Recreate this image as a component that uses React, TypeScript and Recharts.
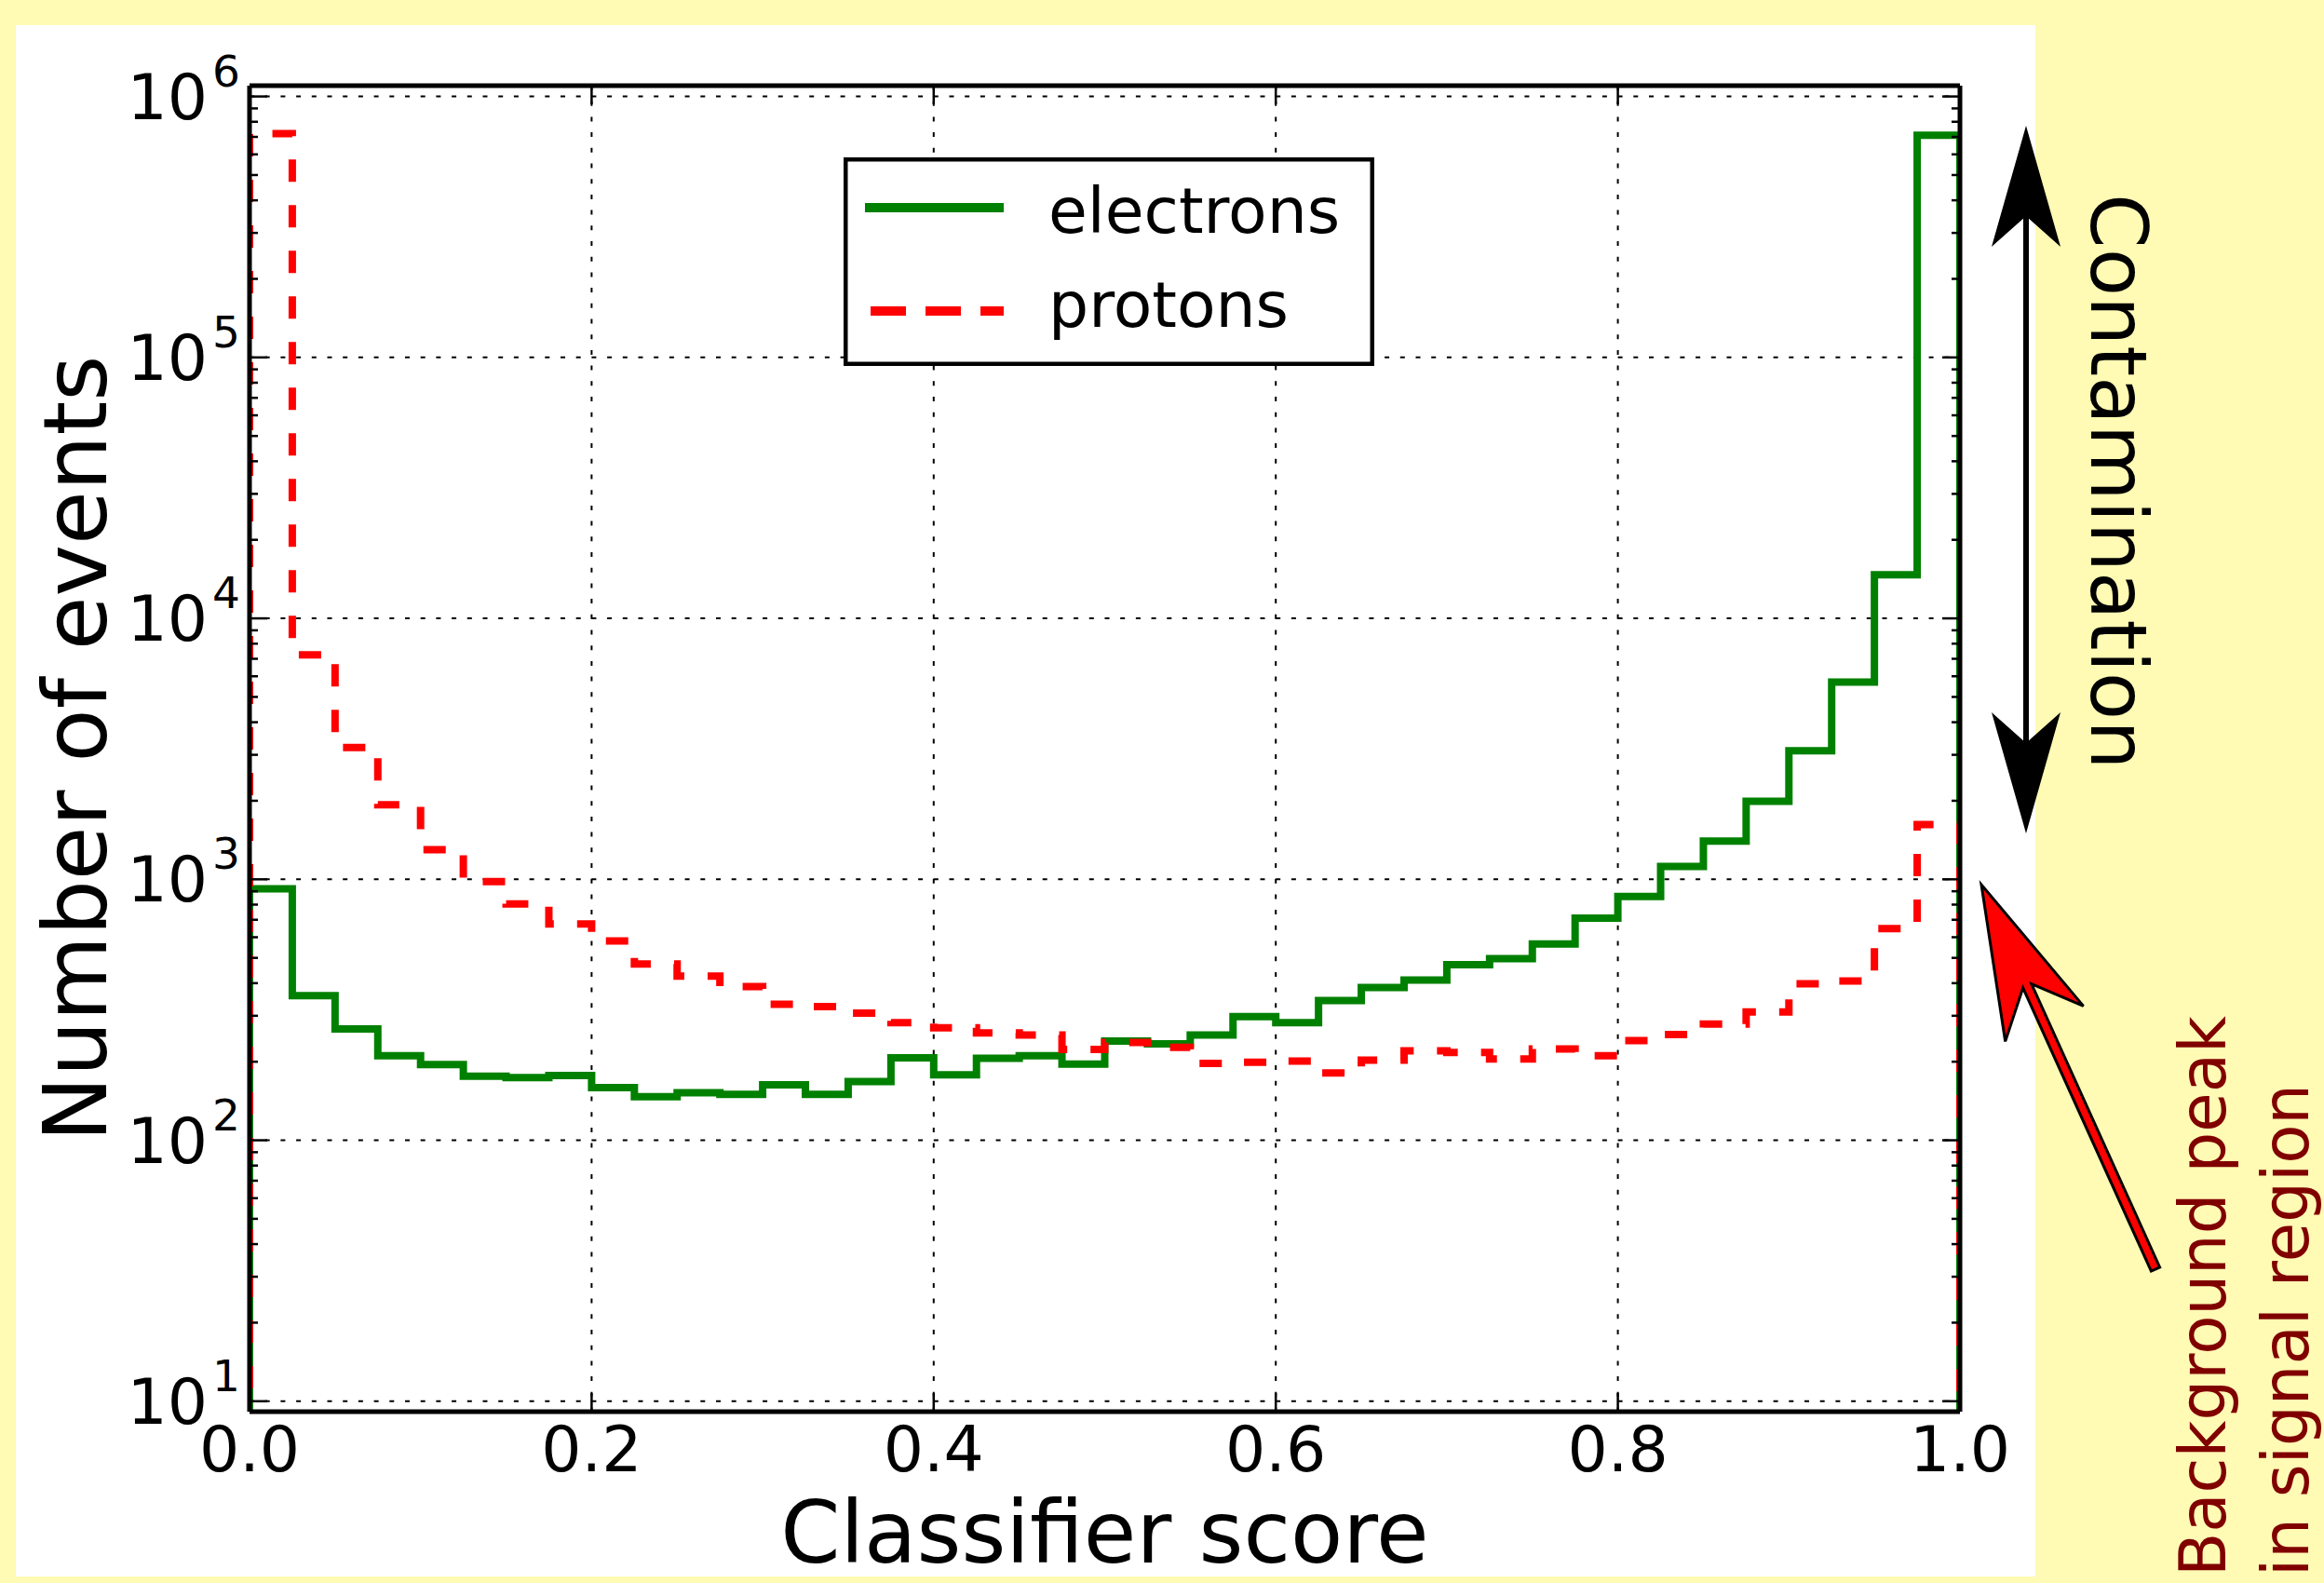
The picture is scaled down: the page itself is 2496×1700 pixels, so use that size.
import React from 'react';
import { LineChart, Line, XAxis, YAxis, CartesianGrid, Legend, Label } from 'recharts';

const FONT = '"DejaVu Sans", "Bitstream Vera Sans", sans-serif';
const BG = '#fffab4';
const GREEN = '#008000';
const RED = '#ff0000';

// Histogram bin left edges (classifier score), last edge = 1.0
const BIN_EDGES = [
  0, 0.025, 0.05, 0.075, 0.1, 0.125, 0.15, 0.175, 0.2, 0.225,
  0.25, 0.275, 0.3, 0.325, 0.35, 0.375, 0.4, 0.425, 0.45, 0.475,
  0.5, 0.525, 0.55, 0.575, 0.6, 0.625, 0.65, 0.675, 0.7, 0.725,
  0.75, 0.775, 0.8, 0.825, 0.85, 0.875, 0.9, 0.925, 0.95, 0.975,
];
const LAST_EDGE = 1.0;
const BASELINE = 1; // histogram outline starts/ends below the axis

const ELECTRONS = [
  920, 358, 267, 211, 195, 176, 174, 177, 159, 147,
  152, 150, 163, 150, 168, 207, 178, 206, 211, 196,
  240, 234, 253, 298, 282, 343, 385, 411, 471, 497,
  565, 710, 859, 1120, 1400, 1990, 3110, 5700, 14700, 710000,
];
const PROTONS = [
  720000, 7250, 3200, 1930, 1300, 981, 805, 674, 581, 474,
  426, 388, 332, 325, 307, 282, 270, 258, 253, 223,
  237, 227, 197, 199, 201, 181, 203, 220, 217, 205,
  224, 211, 241, 254, 279, 310, 398, 408, 647, 1620,
];

const SERIES = [
  { key: 'e', name: 'electrons', color: GREEN, dash: undefined as string | undefined, legendDash: undefined as string | undefined },
  { key: 'p', name: 'protons', color: RED, dash: '24 25', legendDash: '38 21' },
];

const X_TICKS = [0, 0.2, 0.4, 0.6, 0.8, 1.0];
const X_TICK_LABELS = ['0.0', '0.2', '0.4', '0.6', '0.8', '1.0'];
const Y_MAJOR = [10, 100, 1000, 10000, 100000, 1000000];
const Y_TICKS = [
  10, 20, 30, 40, 50, 60, 70, 80, 90,
  100, 200, 300, 400, 500, 600, 700, 800, 900,
  1000, 2000, 3000, 4000, 5000, 6000, 7000, 8000, 9000,
  10000, 20000, 30000, 40000, 50000, 60000, 70000, 80000, 90000,
  100000, 200000, 300000, 400000, 500000, 600000, 700000, 800000, 900000,
  1000000,
];
const Y_MIN = 9.12;
const Y_MAX = 1.1e6;

const X_TITLE = 'Classifier score';
const Y_TITLE = 'Number of events';
const ARROW_TEXT = 'Contamination';
const NOTE_LINES = ['Background peak', 'in signal region'];

function buildData() {
  const rows: any[] = [{ x: BIN_EDGES[0], e: BASELINE, p: BASELINE }];
  BIN_EDGES.forEach((edge, i) => rows.push({ x: edge, e: ELECTRONS[i], p: PROTONS[i] }));
  const n = BIN_EDGES.length - 1;
  rows.push({ x: LAST_EDGE, e: ELECTRONS[n], p: PROTONS[n] });
  rows.push({ x: LAST_EDGE, e: BASELINE, p: BASELINE });
  return rows;
}

const isMajor = (v: number) => Y_MAJOR.includes(v);

const LeftTick = (props: any) => {
  const { x, y, payload } = props;
  const v = payload.value;
  const major = isMajor(v);
  const len = major ? 19 : 9;
  const exp = Math.round(Math.log10(v));
  return (
    <g>
      <line x1={x} y1={y} x2={x + len} y2={y} stroke="#000" strokeWidth={2.5} />
      {major && (
        <text x={x - 10} y={y + 24} textAnchor="end" fontFamily={FONT} fill="#000">
          <tspan fontSize={68}>10</tspan>
          <tspan fontSize={47} dx={5} dy={-35}>{exp}</tspan>
        </text>
      )}
    </g>
  );
};

const RightTick = (props: any) => {
  const { x, y, payload } = props;
  const len = isMajor(payload.value) ? 19 : 9;
  return <line x1={x} y1={y} x2={x - len} y2={y} stroke="#000" strokeWidth={2.5} />;
};

const BottomTick = (props: any) => {
  const { x, y, payload } = props;
  const idx = X_TICKS.indexOf(payload.value);
  const label = idx >= 0 ? X_TICK_LABELS[idx] : String(payload.value);
  return (
    <g>
      <line x1={x} y1={y} x2={x} y2={y - 20} stroke="#000" strokeWidth={2.5} />
      <text x={x} y={y + 64} textAnchor="middle" fontSize={68} fontFamily={FONT} fill="#000">{label}</text>
    </g>
  );
};

const TopTick = (props: any) => {
  const { x, y } = props;
  return <line x1={x} y1={y} x2={x} y2={y + 20} stroke="#000" strokeWidth={2.5} />;
};

const XTitle = (props: any) => {
  const vb = props.viewBox || { x: 251, y: 1489, width: 1837, height: 184 };
  return (
    <text x={vb.x + vb.width / 2} y={vb.y + 162} textAnchor="middle" fontSize={92} fontFamily={FONT} fill="#000">
      {X_TITLE}
    </text>
  );
};

const YTitle = (props: any) => {
  const vb = props.viewBox || { x: 0, y: 65, width: 251, height: 1424 };
  const tx = vb.x + 97;
  const ty = vb.y + vb.height / 2;
  return (
    <text x={tx} y={ty} transform={`rotate(-90 ${tx} ${ty})`} textAnchor="middle" fontSize={94} fontFamily={FONT} fill="#000">
      {Y_TITLE}
    </text>
  );
};

const renderLegend = (props: any) => {
  const payload = props.payload || [];
  const rows = [
    { lineY: 54, textY: 81 },
    { lineY: 165, textY: 182 },
  ];
  return (
    <svg width={570} height={224} style={{ display: 'block' }}>
      <rect x={2.25} y={2.25} width={565.5} height={219.5} fill="#fff" stroke="#000" strokeWidth={4.5} />
      {payload.map((entry: any, i: number) => {
        const s = SERIES.find((q) => q.key === entry.dataKey) || SERIES[i];
        const r = rows[i] || rows[0];
        return (
          <g key={s.key}>
            <line
              x1={23}
              x2={172}
              y1={r.lineY}
              y2={r.lineY}
              stroke={s.color}
              strokeWidth={10}
              strokeDasharray={s.legendDash}
              strokeDashoffset={s.legendDash ? -6 : 0}
            />
            <text x={220} y={r.textY} fontSize={68} fontFamily={FONT} fill="#000">{s.name}</text>
          </g>
        );
      })}
    </svg>
  );
};

type P = [number, number];
function arrowPoints(tip: P, tail: P, headLen: number, headHalf: number, notch: number, shaftHalf: number, doubleHead: boolean) {
  const dx = tail[0] - tip[0];
  const dy = tail[1] - tip[1];
  const L = Math.hypot(dx, dy);
  const bx = dx / L, by = dy / L;
  const px = -by, py = bx;
  const map = (a: number, b: number) => `${(tip[0] + a * bx + b * px).toFixed(1)},${(tip[1] + a * by + b * py).toFixed(1)}`;
  const t = (headHalf - shaftHalf) / headHalf;
  const aj = headLen + (notch - headLen) * t;
  const pts: string[] = [];
  if (!doubleHead) {
    pts.push(map(0, 0), map(headLen, headHalf), map(aj, shaftHalf), map(L, shaftHalf), map(L, -shaftHalf), map(aj, -shaftHalf), map(headLen, -headHalf));
  } else {
    pts.push(
      map(0, 0), map(headLen, headHalf), map(aj, shaftHalf), map(L - aj, shaftHalf), map(L - headLen, headHalf),
      map(L, 0), map(L - headLen, -headHalf), map(L - aj, -shaftHalf), map(aj, -shaftHalf), map(headLen, -headHalf)
    );
  }
  return pts.join(' ');
}

const Annotations = () => (
  <svg width={2496} height={1700} style={{ position: 'absolute', left: 0, top: 0, pointerEvents: 'none' }}>
    <polygon points={arrowPoints([2176, 135], [2176, 895], 130, 37, 97, 3, true)} fill="#000" />
    <text x={2246} y={208} transform="rotate(90 2246 208)" fontSize={84} fontFamily={FONT} fill="#000">
      {ARROW_TEXT}
    </text>
    <polygon
      points={arrowPoints([2128, 950], [2315, 1363], 164, 46, 114, 5, false)}
      fill={RED}
      stroke="#000"
      strokeWidth={3}
      strokeLinejoin="miter"
    />
    <text x={2390} y={1693} transform="rotate(-90 2390 1693)" fontSize={69} fontFamily={FONT} fill="#800000">
      {NOTE_LINES[0]}
    </text>
    <text x={2479} y={1693} transform="rotate(-90 2479 1693)" fontSize={69} fontFamily={FONT} fill="#800000">
      {NOTE_LINES[1]}
    </text>
  </svg>
);

export default function App() {
  const data = buildData();
  const axisLine = { stroke: '#000', strokeWidth: 5 };
  return (
    <div style={{ position: 'absolute', left: 0, top: 0, width: 2496, height: 1700, background: BG, overflow: 'hidden', fontFamily: FONT }}>
      <div style={{ position: 'absolute', left: 17, top: 27, width: 2169, height: 1666, background: '#fff' }}>
        <LineChart width={2169} height={1673} data={data} margin={{ top: 64, right: 80, bottom: 0, left: 0 }}>
          <CartesianGrid
            xAxisId="bottom"
            yAxisId="left"
            horizontalValues={Y_MAJOR}
            verticalValues={X_TICKS}
            stroke="#000"
            strokeWidth={2}
            strokeDasharray="5 11.7"
          />
          {SERIES.map((s) => (
            <Line
              key={s.key}
              xAxisId="bottom"
              yAxisId="left"
              dataKey={s.key}
              name={s.name}
              type="stepAfter"
              stroke={s.color}
              strokeWidth={8}
              strokeDasharray={s.dash}
              dot={false}
              activeDot={false}
              isAnimationActive={false}
            />
          ))}
          <XAxis
            xAxisId="bottom"
            type="number"
            dataKey="x"
            domain={[0, 1]}
            allowDataOverflow
            ticks={X_TICKS}
            interval={0}
            height={184}
            tickSize={0}
            tickMargin={0}
            tickLine={false}
            axisLine={axisLine}
            tick={(p: any) => <BottomTick {...p} />}
          >
            <Label content={XTitle} />
          </XAxis>
          <XAxis
            xAxisId="top"
            orientation="top"
            type="number"
            dataKey="x"
            domain={[0, 1]}
            allowDataOverflow
            ticks={X_TICKS}
            interval={0}
            height={1}
            tickSize={0}
            tickMargin={0}
            tickLine={false}
            axisLine={axisLine}
            tick={(p: any) => <TopTick {...p} />}
          />
          <YAxis
            yAxisId="left"
            type="number"
            scale="log"
            domain={[Y_MIN, Y_MAX]}
            allowDataOverflow
            ticks={Y_TICKS}
            interval={0}
            width={251}
            tickSize={0}
            tickMargin={0}
            tickLine={false}
            axisLine={axisLine}
            tick={(p: any) => <LeftTick {...p} />}
          >
            <Label content={YTitle} />
          </YAxis>
          <YAxis
            yAxisId="right"
            orientation="right"
            type="number"
            scale="log"
            domain={[Y_MIN, Y_MAX]}
            allowDataOverflow
            ticks={Y_TICKS}
            interval={0}
            width={1}
            tickSize={0}
            tickMargin={0}
            tickLine={false}
            axisLine={axisLine}
            tick={(p: any) => <RightTick {...p} />}
          />
          <Legend
            layout="horizontal"
            verticalAlign="middle"
            align="center"
            width={570}
            height={224}
            wrapperStyle={{ left: 889, top: 142, width: 570, height: 224 }}
            content={renderLegend}
          />
        </LineChart>
      </div>
      <Annotations />
    </div>
  );
}
